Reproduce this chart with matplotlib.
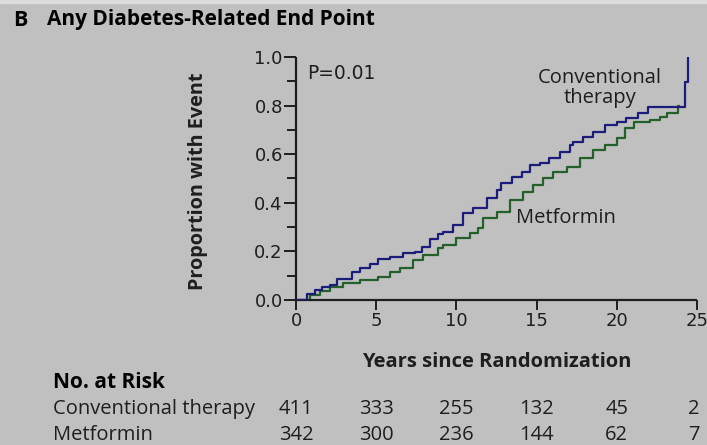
import matplotlib
matplotlib.use("Agg")
import matplotlib.pyplot as plt
from matplotlib.patches import Rectangle

# Cumulative event curves (years, proportion with event)
conv_years = [0, 0.67, 1.18, 1.6, 2.1, 2.54, 3.47, 4.0, 4.6, 5.13, 5.86, 6.7,
              7.4, 7.84, 8.35, 8.87, 9.18, 9.8, 10.43, 11.05, 11.9, 12.5, 12.8,
              13.45, 14.07, 14.6, 15.2, 15.8, 16.46, 17.1, 17.3, 17.9, 18.5,
              19.26, 20.0, 20.6, 21.3, 21.96, 24.25, 24.46]
conv_prop = [0.0, 0.025, 0.04, 0.055, 0.062, 0.085, 0.117, 0.13, 0.148, 0.167,
             0.176, 0.195, 0.199, 0.22, 0.25, 0.272, 0.281, 0.309, 0.357, 0.377,
             0.418, 0.453, 0.48, 0.507, 0.528, 0.556, 0.562, 0.583, 0.61,
             0.638, 0.651, 0.67, 0.693, 0.72, 0.734, 0.748, 0.768, 0.793,
             0.898, 1.0]

metf_years = [0, 0.87, 1.5, 2.1, 2.95, 4.0, 5.13, 5.86, 6.48, 7.3, 7.94, 8.87,
              9.18, 10.0, 10.85, 11.37, 11.68, 12.5, 13.34, 14.17, 14.8, 15.42,
              16.04, 16.88, 17.7, 18.5, 19.26, 20.0, 20.5, 21.1, 22.07, 22.7,
              23.1, 23.84, 23.9]
metf_prop = [0.0, 0.02, 0.038, 0.055, 0.068, 0.082, 0.093, 0.117, 0.13, 0.165,
             0.185, 0.213, 0.226, 0.254, 0.274, 0.295, 0.336, 0.363, 0.41,
             0.446, 0.473, 0.50, 0.528, 0.549, 0.583, 0.617, 0.638, 0.665,
             0.706, 0.734, 0.741, 0.754, 0.771, 0.80, 0.80]

risk_years = [0, 5, 10, 15, 20, 25]
risk_conv = [411, 333, 255, 132, 45, 2]
risk_metf = [342, 300, 236, 144, 62, 7]

BG = "#c0c0c0"
BLUE = "#1c1c7a"
GREEN = "#23602a"
INK = "#1e1e1e"
SANS = ["Open Sans", "DejaVu Sans"]

fig = plt.figure(figsize=(7.07, 4.45), dpi=100, facecolor=BG)
# thin light strip along the top edge
fig.patches.append(Rectangle((0, 0.993), 1, 0.007, transform=fig.transFigure,
                             color="#dcdcdc", zorder=0))

ax = fig.add_axes([296 / 707, 1 - 300 / 445, 401 / 707, 243 / 445])
ax.set_facecolor(BG)

ax.step(conv_years, conv_prop, where="post", color=BLUE, lw=1.6, zorder=3)
ax.step(metf_years, metf_prop, where="post", color=GREEN, lw=1.6, zorder=2)

ax.set_xlim(0, 25)
ax.set_ylim(0, 1.0)
for s in ("top", "right"):
    ax.spines[s].set_visible(False)
for s in ("left", "bottom"):
    ax.spines[s].set_linewidth(1.6)
    ax.spines[s].set_color(INK)
    ax.spines[s].set_capstyle("butt")

ax.set_xticks(risk_years)
ax.set_yticks([0, 0.2, 0.4, 0.6, 0.8, 1.0])
ax.set_yticks([0.1, 0.3, 0.5, 0.7, 0.9], minor=True)
ax.set_yticklabels(["0.0", "0.2", "0.4", "0.6", "0.8", "1.0"])
ax.tick_params(axis="x", which="major", direction="out", length=7,
               width=1.4, color=INK, labelsize=13, pad=1.5, labelcolor=INK)
ax.tick_params(axis="y", which="major", direction="out", length=8.5,
               width=1.4, color=INK, labelsize=13, pad=1, labelcolor=INK)
ax.tick_params(axis="y", which="minor", direction="out", length=6.5,
               width=1.4, color=INK)

ax.set_ylabel("Proportion with Event", fontsize=14.3, fontweight="bold",
              family=SANS, color=INK)
ax.yaxis.set_label_coords(-(296 - 208) / 401, (300 - 181) / 243)
ax.text(0.5, -(362 - 300) / 243, "Years since Randomization", transform=ax.transAxes,
        ha="center", va="center", fontsize=14.5, fontweight="bold", family=SANS,
        color=INK)

ax.text(0.69, 0.934, "P=0.01", fontsize=13.4, va="center", ha="left", color=INK)
ax.text(18.95, 0.872, "Conventional\ntherapy", fontsize=14.5, ha="center",
        va="center", family=SANS, linespacing=0.95, color=INK)
ax.text(16.8, 0.337, "Metformin", fontsize=14.5, ha="center", va="center",
        family=SANS, color=INK)

# title
fig.text(13 / 707, 1 - 21 / 445, "B", fontsize=15.5, fontweight="bold",
         va="center", ha="left", family=SANS, color="black")
fig.text(47 / 707, 1 - 20 / 445, "Any Diabetes-Related End Point", fontsize=15,
         fontweight="bold", va="center", ha="left", family=SANS, color="black")

# number at risk table
fig.text(53 / 707, 1 - 382 / 445, "No. at Risk", fontsize=15, fontweight="bold",
         va="center", ha="left", family=SANS, color="black")
fig.text(53 / 707, 1 - 409 / 445, "Conventional therapy", fontsize=14.5,
         va="center", ha="left", family=SANS, color=INK)
fig.text(53 / 707, 1 - 435 / 445, "Metformin", fontsize=14.5,
         va="center", ha="left", family=SANS, color=INK)
for yr, c, m in zip(risk_years, risk_conv, risk_metf):
    xf = ax.transData.transform((yr, 0))[0] / fig.bbox.width
    if yr == risk_years[-1]:
        xf -= 3 / 707
    fig.text(xf, 1 - 409 / 445, str(c), fontsize=14.5, va="center",
             ha="center", family=SANS, color=INK)
    fig.text(xf, 1 - 435 / 445, str(m), fontsize=14.5, va="center",
             ha="center", family=SANS, color=INK)

fig.savefig("out.png", dpi=100, facecolor=BG)
